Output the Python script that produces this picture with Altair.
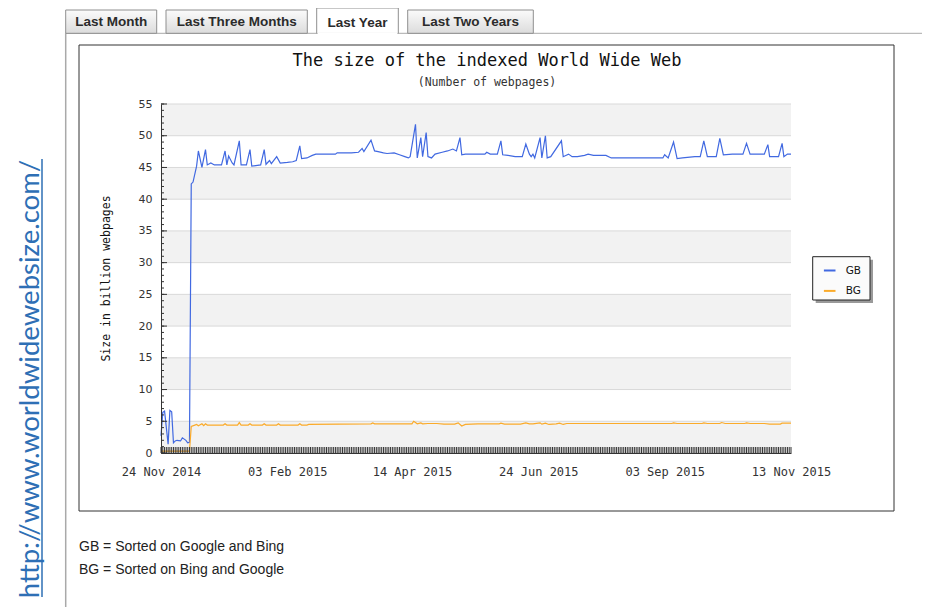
import altair as alt
import pandas as pd

# ---------------- data ----------------
start_date = "2014-11-24"
end_date = "2015-11-13"
series_names = ["GB", "BG"]
series_colors = ["#4169e1", "#fbab2a"]

# (day offset from 24 Nov 2014, size in billion webpages)
gb_points = [(0, 2.7), (1, 6.4), (2, 6.6), (4, 1.4), (5, 6.7), (6, 6.5), (7, 1.6), (8, 1.9), (9, 2.0),
             (11, 1.9), (12, 2.4), (14, 2.0), (15, 1.6), (16, 1.7), (17, 42.4), (18, 42.7), (20, 45.2),
             (21, 47.6), (23, 45.0), (25, 47.8), (26, 45.4), (28, 45.7), (30, 45.4), (34, 45.4), (36, 47.6),
             (37, 45.4), (38, 46.8), (40, 45.7), (41, 45.4), (44, 49.2), (45, 45.4), (48, 45.4), (50, 47.8),
             (51, 45.2), (56, 45.4), (58, 47.8), (59, 45.5), (61, 46.1), (62, 45.6), (65, 46.7), (67, 45.7),
             (71, 45.8), (74, 45.9), (76, 46.1), (78, 48.4), (79, 46.4), (82, 46.5), (85, 46.9), (87, 47.1),
             (98, 47.1), (99, 47.3), (107, 47.3), (111, 47.4), (113, 48.0), (114, 47.5), (118, 49.3),
             (120, 47.6), (122, 47.5), (125, 47.3), (127, 47.2), (131, 47.3), (134, 47.0), (137, 46.7),
             (139, 46.5), (140, 46.7), (143, 51.8), (144, 46.5), (146, 49.7), (147, 46.7), (149, 50.5),
             (150, 46.7), (152, 46.5), (154, 47.1), (158, 47.4), (161, 47.6), (164, 47.9), (166, 47.6),
             (168, 49.7), (169, 47.0), (171, 47.1), (182, 47.1), (183, 47.4), (185, 47.1), (189, 47.1),
             (191, 49.2), (192, 47.0), (195, 46.9), (199, 46.7), (203, 46.7), (205, 48.7), (207, 47.1),
             (208, 46.7), (209, 47.1), (210, 46.5), (213, 49.7), (214, 46.5), (216, 50.0), (217, 46.5),
             (219, 46.7), (225, 49.2), (226, 46.7), (229, 47.1), (231, 46.7), (234, 46.7), (238, 46.9),
             (240, 47.1), (243, 46.9), (250, 46.9), (253, 46.5), (282, 46.5), (283, 47.0), (285, 46.5),
             (288, 49.0), (290, 46.4), (293, 46.5), (300, 46.7), (303, 46.7), (305, 49.2), (307, 46.7),
             (312, 46.7), (314, 49.6), (316, 47.0), (321, 47.1), (327, 47.1), (329, 48.8), (331, 47.1),
             (339, 47.1), (341, 48.6), (342, 46.7), (347, 46.7), (349, 48.8), (350, 46.7), (352, 47.1),
             (354, 47.1)]

bg_points = [(0, 0.3), (16, 0.3), (17, 4.2), (19, 4.4), (20, 4.5), (21, 4.3), (23, 4.6), (24, 4.3),
             (25, 4.6), (26, 4.4), (35, 4.4), (36, 4.6), (37, 4.4), (43, 4.4), (44, 4.8), (45, 4.4),
             (49, 4.4), (50, 4.6), (51, 4.4), (57, 4.4), (58, 4.6), (59, 4.4), (65, 4.4), (66, 4.6),
             (67, 4.4), (77, 4.4), (78, 4.6), (79, 4.4), (82, 4.4), (83, 4.5), (118, 4.6), (119, 4.75),
             (120, 4.6), (141, 4.6), (142, 5.0), (144, 4.6), (146, 4.75), (147, 4.6), (150, 4.65),
             (155, 4.65), (159, 4.55), (165, 4.55), (167, 4.75), (169, 4.25), (171, 4.5), (178, 4.6),
             (190, 4.6), (191, 4.7), (193, 4.55), (202, 4.55), (205, 4.75), (207, 4.6), (209, 4.6),
             (213, 4.75), (214, 4.55), (216, 4.7), (218, 4.5), (222, 4.6), (224, 4.7), (226, 4.5),
             (228, 4.65), (287, 4.65), (288, 4.75), (290, 4.65), (304, 4.65), (305, 4.75), (307, 4.65),
             (314, 4.65), (315, 4.8), (317, 4.65), (328, 4.65), (329, 4.75), (331, 4.65), (339, 4.65),
             (342, 4.55), (348, 4.55), (349, 4.7), (354, 4.7)]

x_tick_dates = [(2014, 11, 24), (2015, 2, 3), (2015, 4, 14), (2015, 6, 24), (2015, 9, 3), (2015, 11, 13)]
y_major = list(range(0, 56, 5))
y_minor = list(range(0, 56, 1))
band_lo = [0, 10, 20, 30, 40, 50]
band_hi = [5, 15, 25, 35, 45, 55]
tab_labels = ["Last Month", "Last Three Months", "Last Year", "Last Two Years"]
title_text = "The size of the indexed World Wide Web"
subtitle_text = "(Number of webpages)"
y_title = "Size in billion webpages"
notes = ["GB = Sorted on Google and Bing", "BG = Sorted on Bing and Google"]
url_text = "http://www.worldwidewebsize.com/"

# ---------------- frames ----------------
t0 = pd.Timestamp(start_date)
rows = []
for name, pts in zip(series_names, [gb_points, bg_points]):
    for d, v in pts:
        rows.append({"date": (t0 + pd.Timedelta(days=d)).strftime("%Y-%m-%d"), "value": v, "series": name})
df_lines = pd.DataFrame(rows)
df_days = pd.DataFrame({"date": pd.date_range(start_date, end_date, freq="D").strftime("%Y-%m-%d")})
df_bands = pd.DataFrame({"lo": band_lo, "hi": band_hi})
df_major = pd.DataFrame({"v": y_major})
df_minor = pd.DataFrame({"v": y_minor})
one = pd.DataFrame({"k": [0]})

W, H = 630, 349
MONO = "DejaVu Sans Mono"
xdom = [alt.DateTime(year=2014, month=11, date=24), alt.DateTime(year=2015, month=11, date=13)]
xscale = alt.Scale(domain=xdom)
yscale = alt.Scale(domain=[0, 55], nice=False)

x_axis = alt.Axis(values=[alt.DateTime(year=a, month=b, date=c) for a, b, c in x_tick_dates],
                  format="%d %b %Y", labelFont=MONO, labelFontSize=12, labelColor="#333333",
                  ticks=False, labelPadding=13, domainColor="#333333", grid=False,
                  labelFlush=False, labelOverlap=False, title=None, zindex=1)
y_axis = alt.Axis(values=y_major, ticks=False, labelPadding=9, labelFont="DejaVu Sans",
                  labelFontSize=11, labelColor="#333333", domainColor="#333333", grid=False,
                  title=None, zindex=1)


def rect(x, x2, y, y2, **kw):
    return alt.Chart(one).mark_rect(**kw).encode(
        x=alt.value(x), x2=alt.value(x2), y=alt.value(y), y2=alt.value(y2))


def rule(x, x2, y, y2, **kw):
    return alt.Chart(one).mark_rule(**kw).encode(
        x=alt.value(x), x2=alt.value(x2), y=alt.value(y), y2=alt.value(y2))


def text(s, x, y, **kw):
    return alt.Chart(one).mark_text(text=s, **kw).encode(x=alt.value(x), y=alt.value(y))


tab_fill = alt.Gradient(gradient="linear",
                        stops=[alt.GradientStop(color="#fbfbfb", offset=0),
                               alt.GradientStop(color="#dcdcdc", offset=1)],
                        x1=0, x2=0, y1=0, y2=1)

deco = [
    rule(-95.3, -95.3, -70.7, 503, color="#a9a9a9", strokeWidth=1.5),
    rule(-95.3, 761, -70.7, -70.7, color="#a9a9a9", strokeWidth=1),
    rect(-95.3, -4.3, -94, -70.7, fill=tab_fill, stroke="#8f8f8f", strokeWidth=1),
    rect(5, 146.3, -94, -70.7, fill=tab_fill, stroke="#8f8f8f", strokeWidth=1),
    rect(246.7, 372.3, -94, -70.7, fill=tab_fill, stroke="#8f8f8f", strokeWidth=1),
    rect(155.7, 237.3, -96, -70.7, fill="white", stroke="#8f8f8f", strokeWidth=1),
    rule(156.5, 236.5, -70.7, -70.7, color="white", strokeWidth=2),
]
tab_x = [-49.8, 75.7, 196.5, 309.5]
tab_y = [-82.5, -82.5, -81.5, -82.5]
for lab, tx, ty in zip(tab_labels, tab_x, tab_y):
    deco.append(text(lab, tx, ty, font="Liberation Sans", fontSize=13.5, fontWeight="bold",
                     color="#2b2b2b", align="center", baseline="middle"))

deco += [
    rect(-82, 733, -59, 407, filled=False, stroke="#333333", strokeWidth=1),
    text(title_text, 326, -43, font=MONO, fontSize=17, color="#111111", align="center", baseline="middle"),
    text(subtitle_text, 326, -21.5, font=MONO, fontSize=11.5, color="#333333", align="center", baseline="middle"),
    text(y_title, -54, 174.5, font=MONO, fontSize=11.5, color="#111111", angle=270,
         align="center", baseline="middle"),
    text(notes[0], -82, 443, font="Liberation Sans", fontSize=14, color="#222222", align="left", baseline="middle"),
    text(notes[1], -82, 466, font="Liberation Sans", fontSize=14, color="#222222", align="left", baseline="middle"),
    text(url_text, -122, 275, font="Lato", fontSize=27.5, color="#2e6fb5", angle=270,
         align="center", baseline="alphabetic"),
    rule(-119, -119, 55, 493, color="#2e6fb5", strokeWidth=1.5),
    rect(654.7, 712, 155.7, 199, fill="#9a9a9a"),
    rect(651.7, 709, 152.7, 196, fill="#fbfbfb", stroke="#222222", strokeWidth=1),
]

bands = alt.Chart(df_bands).mark_rect(color="#f2f2f2").encode(
    y=alt.Y("lo:Q", scale=yscale, axis=y_axis), y2="hi:Q", x=alt.value(0), x2=alt.value(W))
grid = alt.Chart(df_major).mark_rule(color="#d9d9d9", strokeWidth=1).encode(
    y=alt.Y("v:Q", scale=yscale, axis=y_axis), x=alt.value(0), x2=alt.value(W))

lines = alt.Chart(df_lines).mark_line(strokeWidth=1.2).encode(
    x=alt.X("date:T", scale=xscale, axis=x_axis),
    y=alt.Y("value:Q", scale=yscale, axis=y_axis),
    color=alt.Color("series:N", scale=alt.Scale(domain=series_names, range=series_colors),
                    legend=alt.Legend(orient="none", legendX=661.7, legendY=159.5, title=None,
                                      symbolType="stroke", symbolSize=135, symbolStrokeWidth=2,
                                      labelFont="DejaVu Sans", labelFontSize=10.5, labelColor="#111111",
                                      labelOffset=9, rowPadding=7.4, padding=0)),
    order=alt.Order("date:T"),
)

hatch = alt.Chart(df_days).mark_rule(color="#333333", strokeWidth=1).encode(
    x=alt.X("date:T", scale=xscale, axis=x_axis), y=alt.value(H - 6), y2=alt.value(H))
major_ticks = alt.Chart(df_major).mark_rule(color="#333333").encode(
    y=alt.Y("v:Q", scale=yscale, axis=y_axis), x=alt.value(0), x2=alt.value(6))
minor_ticks = alt.Chart(df_minor).mark_rule(color="#333333").encode(
    y=alt.Y("v:Q", scale=yscale, axis=y_axis), x=alt.value(0), x2=alt.value(3))

chart = alt.layer(
    *deco, bands, grid, lines, hatch, major_ticks, minor_ticks
).properties(
    width=W, height=H,
    padding={"left": 153, "top": 96, "right": 131, "bottom": 154},
    autosize=alt.AutoSizeParams(type="none"),
).configure_view(stroke=None)

chart.save("out.html", embed_options={"renderer": "svg", "actions": False})
